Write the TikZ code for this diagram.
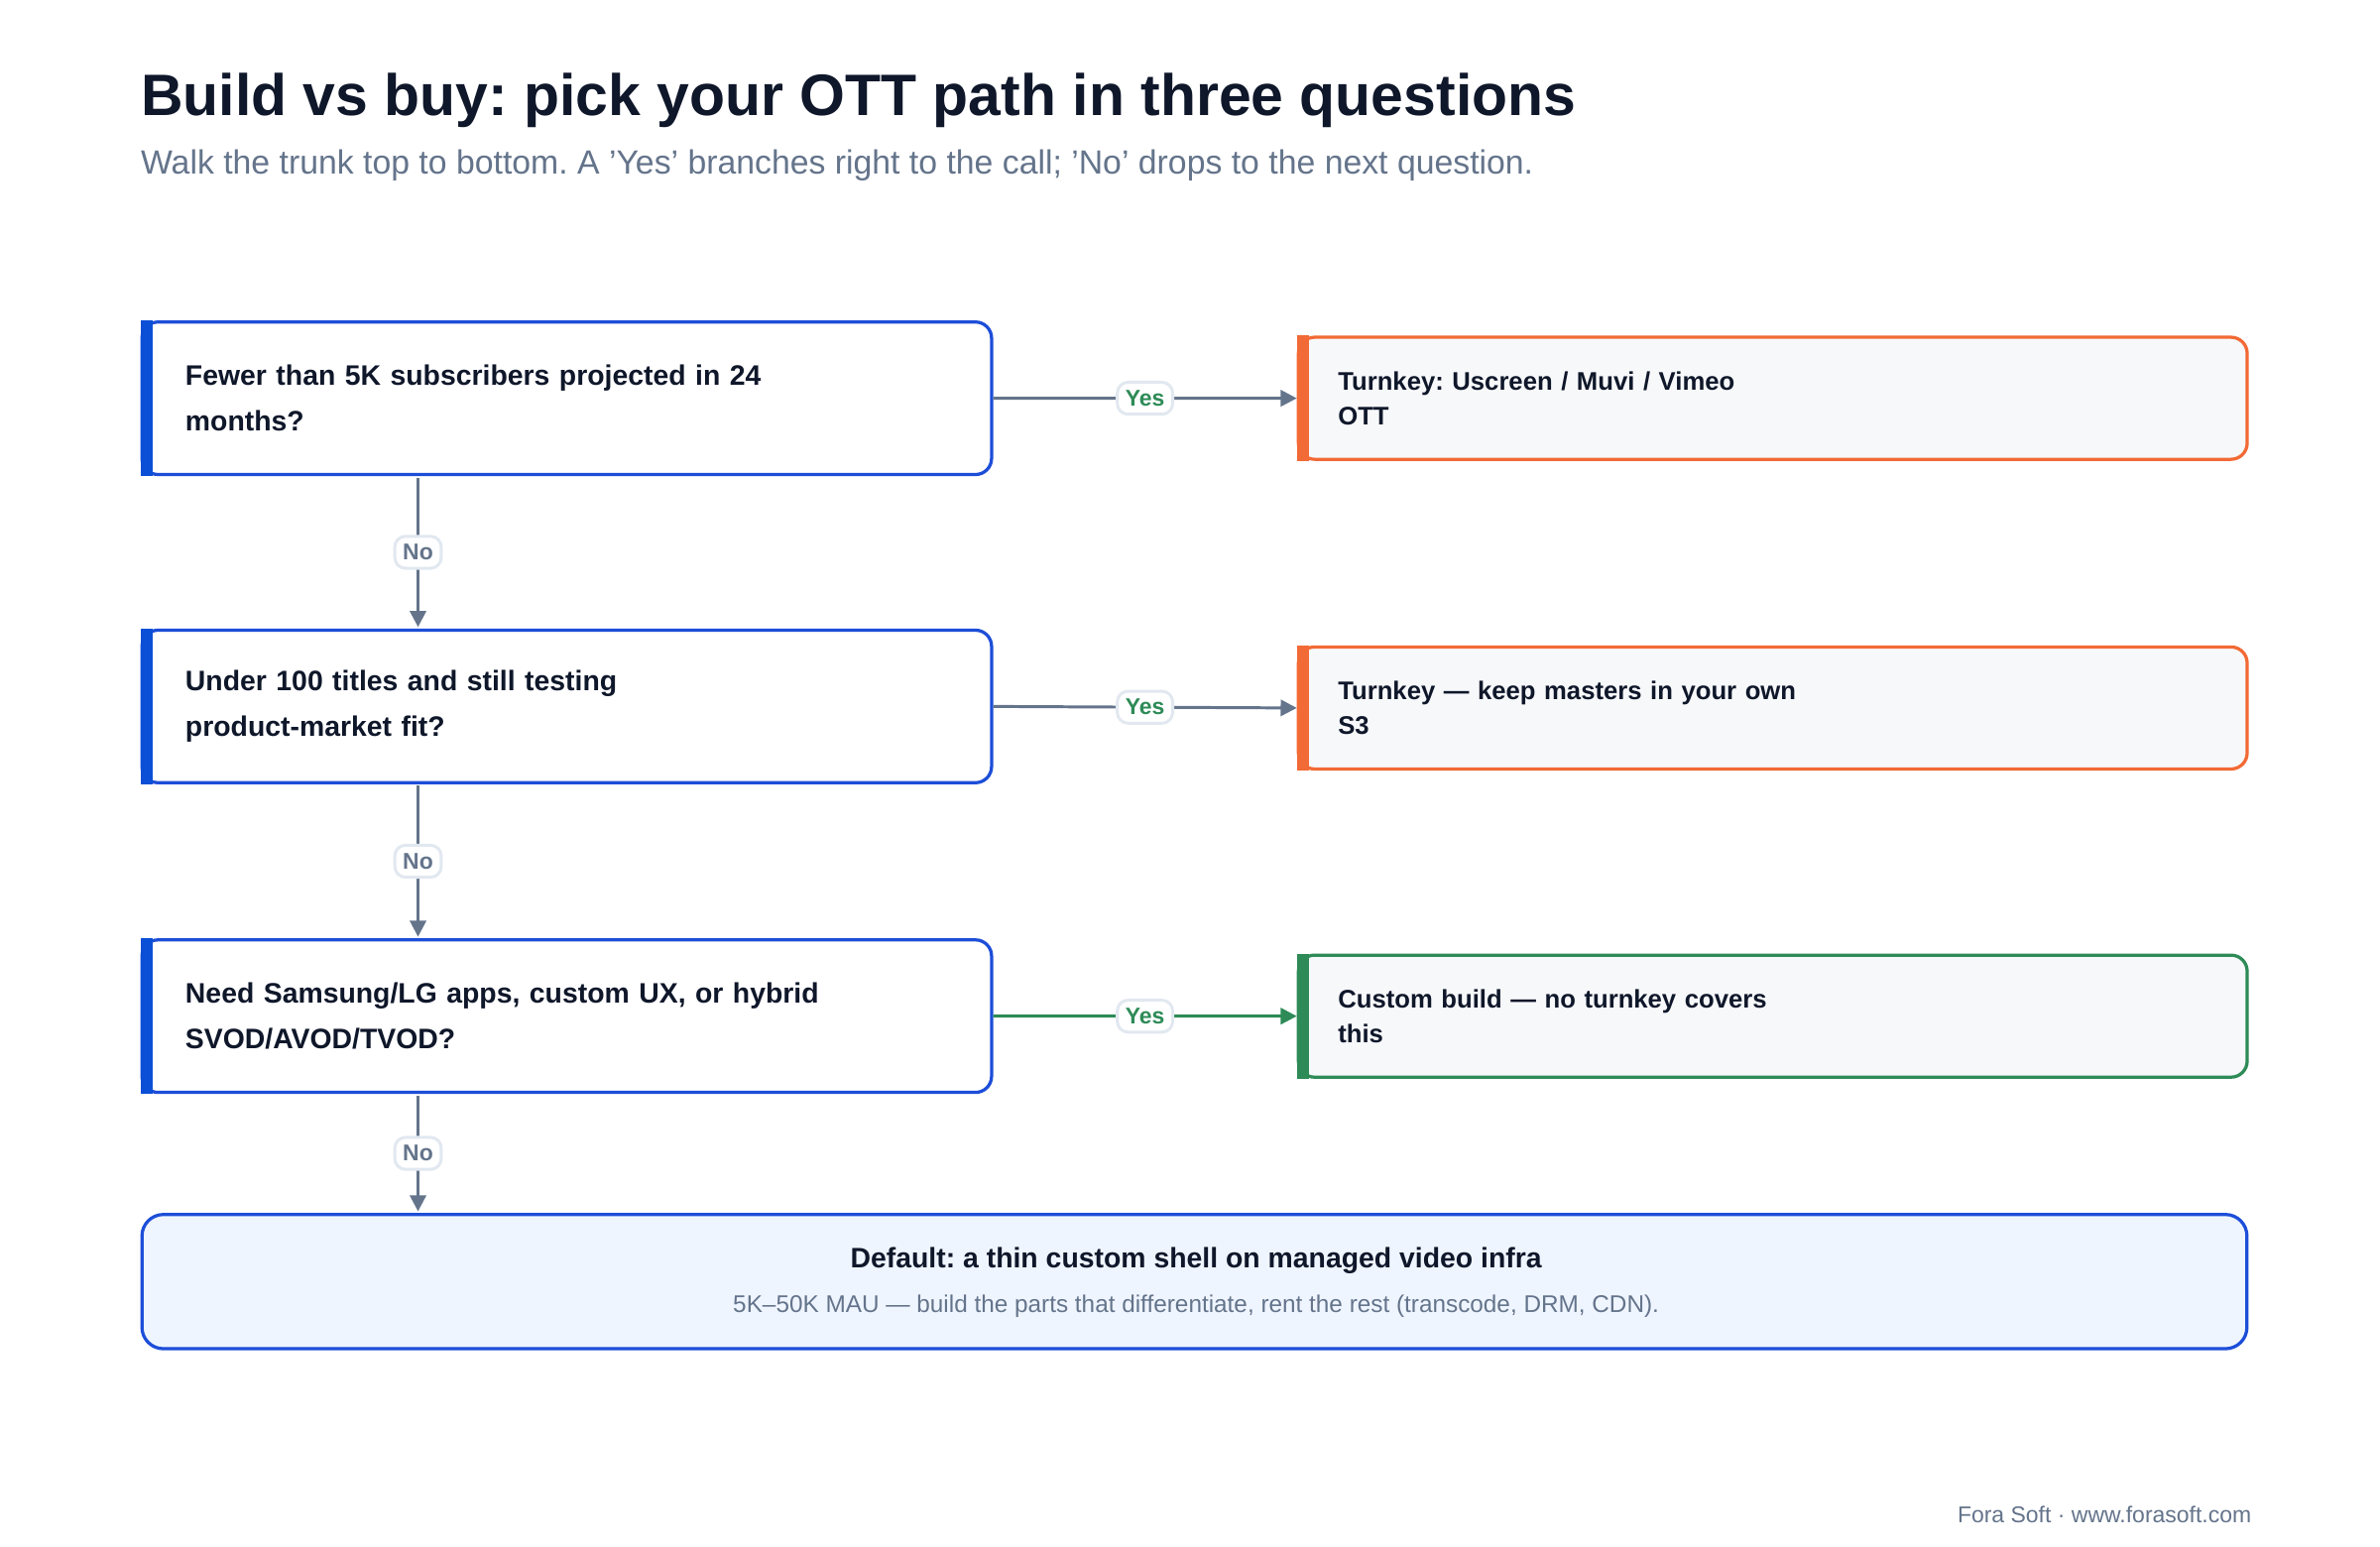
\documentclass[tikz,border=0pt]{standalone}
\usepackage{fontspec}
\setmainfont{Liberation Sans}
\frenchspacing
\usetikzlibrary{arrows.meta,positioning}
\definecolor{ink}{HTML}{0F172A}
\definecolor{slate}{HTML}{64748B}
\definecolor{qblue}{HTML}{1D4ED8}
\definecolor{bar}{HTML}{0B4FD6}
\definecolor{orng}{HTML}{F26A35}
\definecolor{grn}{HTML}{2E8B57}
\definecolor{pale}{HTML}{F7F8FA}
\definecolor{lblue}{HTML}{EFF5FF}
\definecolor{pillb}{HTML}{E2E8F0}
\newcommand{\sq}{\char"27\relax}
\begin{document}
\begin{tikzpicture}[x=0.02cm,y=-0.02cm,
    question/.style={draw=qblue, line width=1.2pt, fill=white, rounded corners=6pt,
                minimum width=11.14cm, minimum height=2.0cm, text width=10.0cm,
                align=left, font=\bfseries\fontsize{10.5}{17}\selectfont, text=ink, anchor=north west,
                inner xsep=0.56cm},
    answer/.style={draw=#1, line width=1.2pt, fill=pale, rounded corners=6pt,
                minimum width=12.44cm, minimum height=1.6cm, text width=11.4cm,
                align=left, font=\bfseries\fontsize{9.5}{13}\selectfont, text=ink, anchor=north west,
                inner xsep=0.5cm},
    pill/.style={draw=pillb, fill=white, rounded corners=4pt, inner sep=3pt,
                font=\bfseries\fontsize{8.5}{10}\selectfont},
    link/.style={line width=1.1pt, -{Triangle[length=6pt,width=6pt]}}
    ]
\useasboundingbox (0,0) rectangle (1560,1014);
\fill[white] (0,0) rectangle (1560,1014);

% heading
\node[anchor=base west, text=ink, font=\bfseries\fontsize{21.8}{24}\selectfont, inner sep=0pt] (title) at (92,76) {Build vs buy: pick your OTT path in three questions};
\node[anchor=base west, text=slate, font=\fontsize{12.5}{14}\selectfont, inner sep=0pt] (sub) at (92,114) {Walk the trunk top to bottom. A \sq Yes\sq{} branches right to the call; \sq No\sq{} drops to the next question.};

% questions
\node[question] (q1) at (92,210) {Fewer than 5K subscribers projected in 24\\months?};
\node[question] (q2) at (92,412) {Under 100 titles and still testing\\product-market fit?};
\node[question] (q3) at (92,615) {Need Samsung/LG apps, custom UX, or hybrid\\SVOD/AVOD/TVOD?};
\foreach \q in {q1,q2,q3}
  \fill[bar] (\q.north west) rectangle ([xshift=0.16cm]\q.south west);

% answers
\node[answer=orng] (a1) at (850,220) {Turnkey: Uscreen / Muvi / Vimeo\\OTT};
\node[answer=orng] (a2) at (850,423) {Turnkey — keep masters in your own\\S3};
\node[answer=grn] (a3) at (850,625) {Custom build — no turnkey covers\\this};
\fill[orng] (a1.north west) rectangle ([xshift=0.16cm]a1.south west);
\fill[orng] (a2.north west) rectangle ([xshift=0.16cm]a2.south west);
\fill[grn] (a3.north west) rectangle ([xshift=0.16cm]a3.south west);

% default
\node[draw=qblue, line width=1.2pt, fill=lblue, rounded corners=8pt, anchor=north west,
      minimum width=27.6cm, minimum height=1.76cm] (dflt) at (92,795) {};
\node[text=ink, font=\bfseries\fontsize{10.5}{12}\selectfont] (dtitle) at (784,826) {Default: a thin custom shell on managed video infra};
\node[text=slate, font=\fontsize{9}{11}\selectfont] (dsub) at (784,856) {5K–50K MAU — build the parts that differentiate, rent the rest (transcode, DRM, CDN).};

% yes branches
\draw[link, slate] (q1.east) -- (a1.west) node[pill, midway, text=grn] {Yes};
\draw[link, slate] (q2.east) -- (a2.west) node[pill, midway, text=grn] {Yes};
\draw[link, grn] (q3.east) -- (a3.west) node[pill, midway, text=grn] {Yes};

% no drops
\coordinate (n1) at (274,313);
\coordinate (n2) at (274,515);
\coordinate (n3) at (274,718);
\draw[link, slate] (n1) -- (274,411) node[pill, midway, text=slate] {No};
\draw[link, slate] (n2) -- (274,614) node[pill, midway, text=slate] {No};
\draw[link, slate] (n3) -- (274,794) node[pill, midway, text=slate] {No};

% footer
\node[anchor=base east, text=slate, font=\fontsize{8.5}{10}\selectfont, inner sep=0pt] (foot) at (1476,998) {Fora Soft · www.forasoft.com};
\end{tikzpicture}
\end{document}
